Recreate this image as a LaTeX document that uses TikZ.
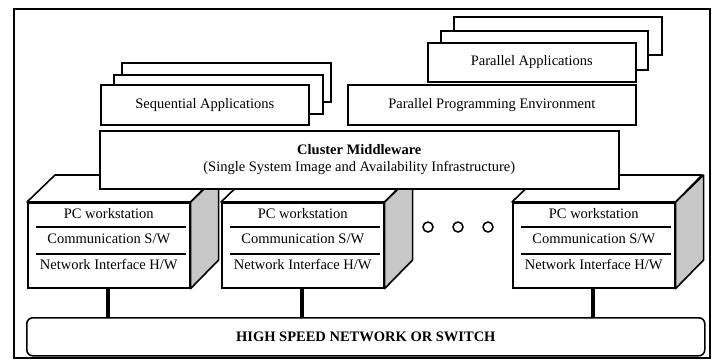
\documentclass[tikz,border=0pt]{standalone}
\usepackage{fontspec}
\setmainfont{Liberation Serif}
\usetikzlibrary{calc}
\tikzset{
  box/.style={draw, line width=1.6pt, fill=white, inner sep=0pt, anchor=north west},
  face/.style={draw, line width=1.6pt, line join=round},
  rule/.style={line width=1.6pt},
  wire/.style={line width=3.6pt},
  dot/.style={draw, circle, line width=1.5pt, minimum size=10pt, inner sep=0pt},
}

\begin{document}
\begin{tikzpicture}[x=1pt,y=-1pt,font=\fontsize{14.5}{17}\selectfont]
  \useasboundingbox (0,0) rectangle (715,360);
  \draw[line width=1.4pt] (14,9) rectangle (710,358);
  % application layer
  \node[box, minimum width=209, minimum height=39] (seqc) at (121,62) {};
  \node[box, minimum width=209, minimum height=39] (seqb) at (113,74) {};
  \node[box, minimum width=208, minimum height=40] (seq) at (100,84) {Sequential Applications};
  \node[box, minimum width=208, minimum height=38] (parc) at (453,16) {};
  \node[box, minimum width=207, minimum height=39] (parb) at (440,30) {};
  \node[box, minimum width=208, minimum height=39] (par) at (427,42) {Parallel Applications};
  \node[box, minimum width=288, minimum height=40] (ppe) at (347,84) {Parallel Programming Environment};
  % network
  \node[box, rounded corners=6pt, minimum width=678, minimum height=38] (net) at (26,317)
    {\textbf{HIGH SPEED NETWORK OR SWITCH}};
  % workstations
  \foreach \n/\x in {wa/27,wb/221,wc/512}{
    \draw[wire] (\x+81,287) -- (\x+81,317);
    \node[box, minimum width=162, minimum height=85] (\n) at (\x,202) {};
    \draw[face, fill=white] (\n.north west) -- ++(28,-27) -- ++(162,0) -- (\n.north east) -- cycle;
    \draw[face, fill=black!22] (\n.north east) -- ++(28,-27) -- ++(0,85) -- (\n.south east) -- cycle;
    \node (\n pc) at ($(\n.north)+(0,12)$) {PC workstation};
    \node (\n cs) at ($(\n.north)+(0,37)$) {Communication S/W};
    \node (\n ni) at ($(\n.north)+(0,62)$) {Network Interface H/W};
    \draw[rule] ($(\n.north west)+(9,25)$) -- ($(\n.north east)+(-5,25)$);
    \draw[rule] ($(\n.north west)+(9,52)$) -- ($(\n.north east)+(-5,52)$);
  }
  % middleware
  \node[box, align=center, minimum width=519, minimum height=58] (mw) at (99,130)
    {\textbf{Cluster Middleware}\\(Single System Image and Availability Infrastructure)};
  \foreach \cx/\d in {428/1,458/2,488/3}
    \node[dot] (dot\d) at (\cx,227) {};
\end{tikzpicture}
\end{document}
